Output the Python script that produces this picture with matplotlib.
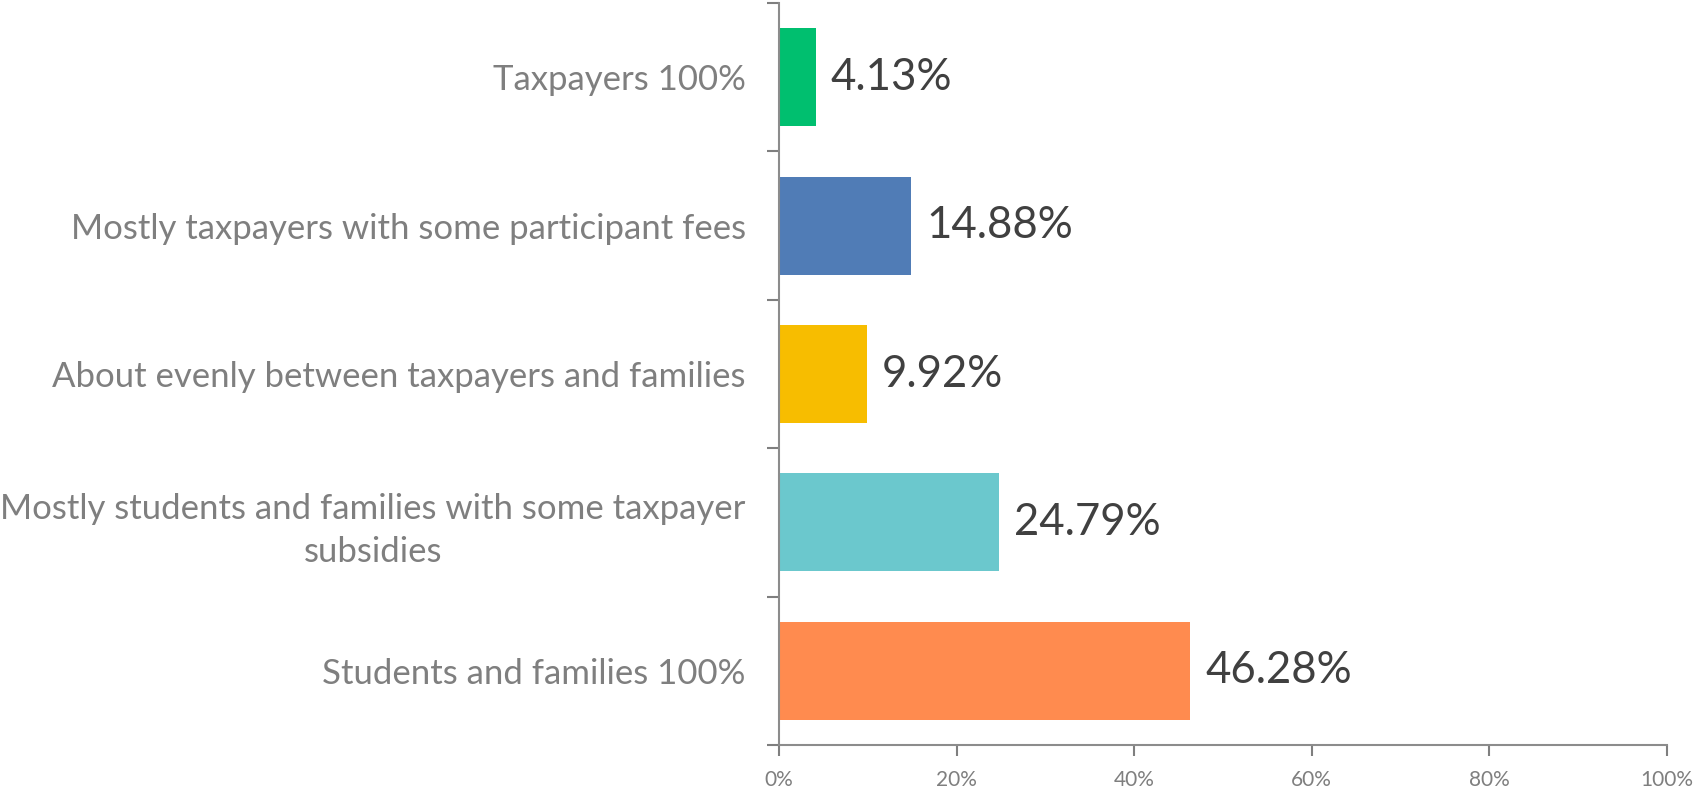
import matplotlib.pyplot as plt
from matplotlib.ticker import FuncFormatter, FixedLocator

categories = [
    "Students and families 100%",
    "Mostly students and families with some taxpayer\nsubsidies",
    "About evenly between taxpayers and families",
    "Mostly taxpayers with some participant fees",
    "Taxpayers 100%",
]
values = [46.28, 24.79, 9.92, 14.88, 4.13]
colors = ["#FF8B4F", "#6BC8CD", "#F7BD00", "#507CB6", "#00BF6F"]
x_ticks = [0, 20, 40, 60, 80, 100]


def main():
    plt.rcParams["font.family"] = ["Lato", "DejaVu Sans"]
    fig = plt.figure(figsize=(16.96, 7.93), dpi=100)
    ax = fig.add_axes([0.4593, 0.0605, 0.9829 - 0.4593, 0.9962 - 0.0605])

    pos = list(range(len(categories)))
    bars = ax.barh(pos, values, height=0.66, color=colors)

    for b, v in zip(bars, values):
        ax.text(b.get_width() + 1.7, b.get_y() + b.get_height() / 2,
                f"{v:.2f}%", va="center", ha="left",
                fontsize=31.5, color="#404040")

    ax.set_xlim(0, 100)
    ax.set_ylim(-0.5, len(categories) - 0.5)
    ax.set_xticks(x_ticks)
    ax.xaxis.set_major_formatter(FuncFormatter(lambda x, p: f"{x:.0f}%"))
    ax.tick_params(axis="x", colors="#7f7f7f", labelsize=15, length=8,
                   width=1.5, pad=10)

    # category ticks sit between bars, labels at bar centres
    ax.set_yticks(pos)
    ax.set_yticklabels(categories, fontsize=25, color="#7f7f7f",
                       multialignment="center", linespacing=1.4)
    ax.yaxis.set_minor_locator(FixedLocator([p - 0.5 for p in pos] + [len(pos) - 0.5]))
    ax.tick_params(axis="y", which="major", length=0, pad=24)
    ax.tick_params(axis="y", which="minor", length=9, width=1.5, color="#7f7f7f")

    for s in ["top", "right"]:
        ax.spines[s].set_visible(False)
    for s in ["left", "bottom"]:
        ax.spines[s].set_color("#8c8c8c")
        ax.spines[s].set_linewidth(1.5)

    fig.savefig("out.png", dpi=100)


if __name__ == "__main__":
    main()
